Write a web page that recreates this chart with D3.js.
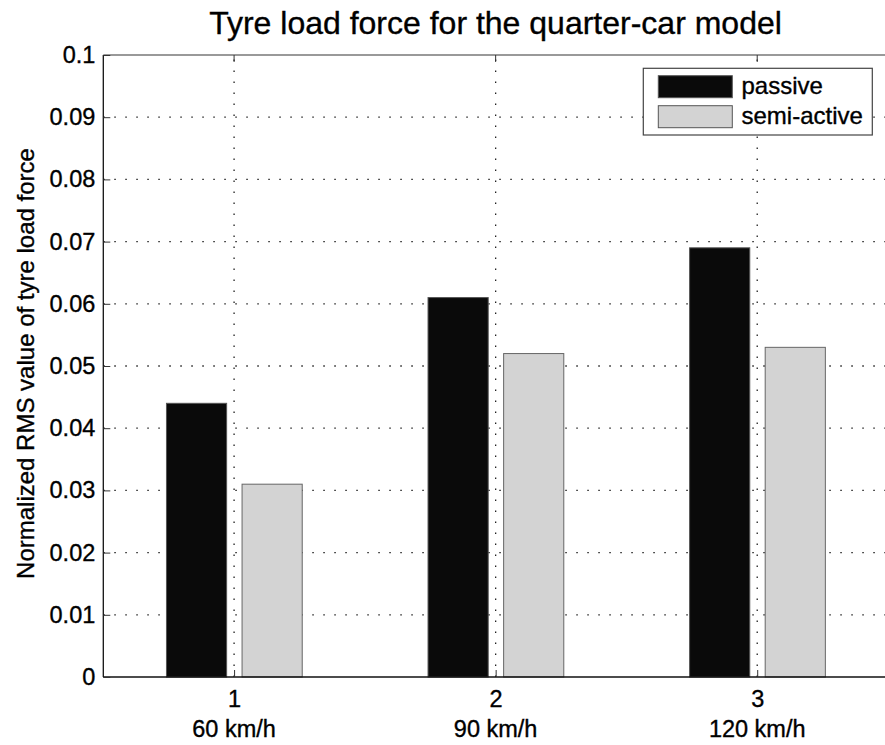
<!DOCTYPE html>
<html><head><meta charset="utf-8">
<script src="https://cdn.jsdelivr.net/npm/d3@7/dist/d3.min.js"></script>
<style>body{margin:0;background:#fff}svg{display:block;font-family:"Liberation Sans",Arial,Helvetica,sans-serif}
text{stroke:#000;stroke-width:0.35px}</style>
</head><body>
<svg id="c" width="885" height="745"></svg>
<script>
const categories = [1, 2, 3];
const speedLabels = ["60 km/h", "90 km/h", "120 km/h"];
const passive = [0.044, 0.061, 0.069];
const semiActive = [0.031, 0.052, 0.053];
const yTicks = [0, 0.01, 0.02, 0.03, 0.04, 0.05, 0.06, 0.07, 0.08, 0.09, 0.1];
const seriesNames = ["passive", "semi-active"];
const seriesColors = ["#0a0a0a", "#d3d3d3"];

const FS = 23.5;
const svg = d3.select("#c");
const L = 103.3, R = 888, T = 55, B = 677;
const x = d3.scaleLinear().domain([0.5, 3.5]).range([L, R]);
const y = d3.scaleLinear().domain([0, 0.1]).range([B, T]);

// grid
const g = svg.append("g");
g.selectAll(".hg").data(yTicks.slice(1, -1)).enter().append("line")
  .attr("x1", L).attr("x2", R).attr("y1", d => y(d)).attr("y2", d => y(d))
  .attr("stroke", "#222").attr("stroke-width", 1.3).attr("stroke-dasharray", "1.5,9.5");
g.selectAll(".vg").data(categories).enter().append("line")
  .attr("x1", d => x(d)).attr("x2", d => x(d)).attr("y1", B).attr("y2", T)
  .attr("stroke", "#222").attr("stroke-width", 1.3).attr("stroke-dasharray", "1.5,9.5");

// bars
const bw = 0.23;
const offs = [-0.1435, 0.1455];
[passive, semiActive].forEach((vals, si) => {
  svg.append("g").selectAll("rect").data(vals).enter().append("rect")
    .attr("x", (d, i) => x(categories[i] + offs[si] - bw / 2))
    .attr("width", x(bw) - x(0))
    .attr("y", d => y(d))
    .attr("height", d => y(0) - y(d))
    .attr("fill", seriesColors[si])
    .attr("stroke", si === 0 ? "#555" : "#666").attr("stroke-width", 1);
});

// axes box
svg.append("line").attr("x1", L).attr("x2", R).attr("y1", T).attr("y2", T).attr("stroke", "#777").attr("stroke-width", 1.3);
svg.append("line").attr("x1", L).attr("x2", R).attr("y1", B).attr("y2", B).attr("stroke", "#111").attr("stroke-width", 1.3);
svg.append("line").attr("x1", L).attr("x2", L).attr("y1", T).attr("y2", B).attr("stroke", "#111").attr("stroke-width", 1.3);

// y axis
const ya = d3.axisLeft(y).tickValues(yTicks).tickSize(-7).tickPadding(8).tickFormat(d => d === 0 ? "0" : d3.format("")(+d.toFixed(2)));
const yg = svg.append("g").attr("transform", `translate(${L},0)`).call(ya);
yg.select(".domain").remove();
yg.selectAll(".tick line").attr("stroke", "#333");
yg.selectAll("text").attr("font-size", FS).attr("fill", "#000").attr("font-family", "Liberation Sans, Arial, sans-serif");

// x axis
const xa = d3.axisBottom(x).tickValues(categories).tickSize(-7).tickPadding(13).tickFormat(d3.format("d"));
const xg = svg.append("g").attr("transform", `translate(0,${B})`).call(xa);
xg.select(".domain").remove();
xg.selectAll(".tick line").attr("stroke", "#333");
xg.selectAll("text").attr("font-size", FS).attr("fill", "#000").attr("font-family", "Liberation Sans, Arial, sans-serif");
// top ticks
svg.append("g").selectAll("line").data(categories).enter().append("line")
  .attr("x1", d => x(d)).attr("x2", d => x(d)).attr("y1", T).attr("y2", T + 7).attr("stroke", "#333");

// speed labels
svg.append("g").selectAll("text").data(speedLabels).enter().append("text")
  .attr("x", (d, i) => x(categories[i])).attr("y", 736.5)
  .attr("text-anchor", "middle").attr("font-size", FS).text(d => d);

// y label
svg.append("text").attr("transform", `translate(34,363.5) rotate(-90)`)
  .attr("text-anchor", "middle").attr("font-size", 24).text("Normalized RMS value of tyre load force");

// title
svg.append("text").attr("x", 495.5).attr("y", 33.5).attr("text-anchor", "middle")
  .attr("font-size", 32).text("Tyre load force for the quarter-car model");

// legend
const lg = svg.append("g");
lg.append("rect").attr("x", 643.3).attr("y", 68.3).attr("width", 229).attr("height", 66.7)
  .attr("fill", "#fff").attr("stroke", "#444").attr("stroke-width", 1.2);
seriesNames.forEach((n, i) => {
  lg.append("rect").attr("x", 658.3).attr("y", 75.7 + i * 30).attr("width", 74).attr("height", 22)
    .attr("fill", seriesColors[i]).attr("stroke", "#555");
  lg.append("text").attr("x", 741.5).attr("y", 94 + i * 30).attr("font-size", 24).text(n);
});
</script>
</body></html>
